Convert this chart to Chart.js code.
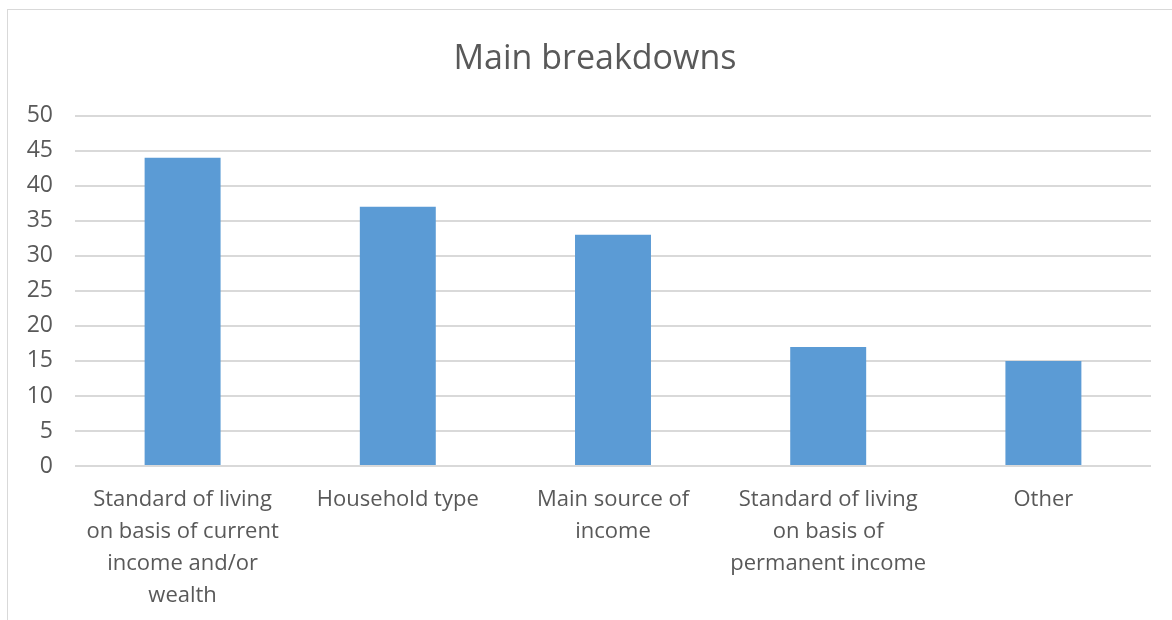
<!DOCTYPE html>
<html>
<head>
<meta charset="utf-8">
<script src="https://cdn.jsdelivr.net/npm/chart.js@4/dist/chart.umd.min.js"></script>
<style>
  html, body { margin: 0; padding: 0; background: #fff; overflow: hidden; }
  #frame {
    position: absolute; left: 7px; top: 9px; width: 1200px; height: 700px;
    border: 1px solid #d9d9d9; box-sizing: border-box;
  }
  #wrap { position: absolute; left: 0; top: 0; width: 1172px; height: 620px; }
</style>
</head>
<body>
<div id="frame"></div>
<div id="wrap"><canvas id="chart" width="1172" height="620"></canvas></div>
<script>
const categories = [
    ['Standard of living', 'on basis of current', 'income and/or', 'wealth'],
    'Household type',
    ['Main source of', 'income'],
    ['Standard of living', 'on basis of', 'permanent income'],
    'Other'
];
const values = [44, 37, 33, 17, 15];
const yMin = 0;
const yMax = 50;
const yStep = 5;

const TEXT_COLOR = '#595959';
const GRID_COLOR = '#d9d9d9';
const FONT = "'Open Sans', sans-serif";

// the original chart box runs past the right edge, so its title sits a bit right of centre
const shiftTitle = {
    id: 'shiftTitle',
    afterLayout(chart) {
        if (chart.titleBlock) chart.titleBlock.left = 39;
    }
};

const config = {
    type: 'bar',
    data: {
        labels: categories,
        datasets: [{
            label: 'Main breakdowns',
            data: values,
            backgroundColor: '#5b9bd5',
            borderWidth: 0,
            categoryPercentage: 1,
            barPercentage: 0.353
        }]
    },
    options: {
        responsive: false,
        animation: false,
        layout: {
            padding: { left: 0, right: 21, top: 0, bottom: 0 }
        },
        plugins: {
            legend: { display: false },
            tooltip: { enabled: false },
            title: {
                display: true,
                text: 'Main breakdowns',
                color: TEXT_COLOR,
                font: { family: FONT, size: 34, weight: 'normal', lineHeight: 1.2 },
                padding: { top: 39, bottom: 36 }
            }
        },
        scales: {
            x: {
                grid: { display: false, drawTicks: false },
                border: { display: false },
                ticks: {
                    color: TEXT_COLOR,
                    font: { family: FONT, size: 22, lineHeight: 1.45 },
                    padding: 18,
                    maxRotation: 0,
                    autoSkip: false
                },
                afterFit: function (scale) { scale.height = 154; }
            },
            y: {
                min: yMin,
                max: yMax,
                grid: { color: GRID_COLOR, lineWidth: 2, drawTicks: false },
                border: { display: false },
                ticks: {
                    stepSize: yStep,
                    color: TEXT_COLOR,
                    font: { family: FONT, size: 23 },
                    padding: 22
                },
                afterFit: function (scale) { scale.width = 75; }
            }
        }
    },
    plugins: [shiftTitle]
};

new Chart(document.getElementById('chart'), config);
</script>
</body>
</html>
